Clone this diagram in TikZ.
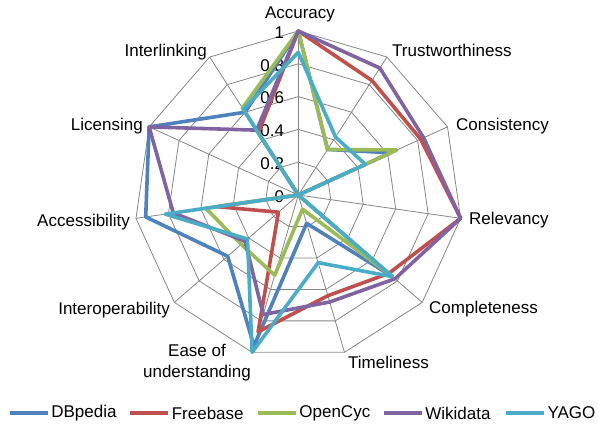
\documentclass[tikz,border=0pt]{standalone}
\usepackage{fontspec}
\setmainfont{Liberation Sans}
\usetikzlibrary{calc}

\definecolor{dbpblue}{HTML}{4F81BD}
\definecolor{frbred}{HTML}{C0504D}
\definecolor{cycgreen}{HTML}{9BBB59}
\definecolor{wkdpurple}{HTML}{8064A2}
\definecolor{yagcyan}{HTML}{4BACC6}
\definecolor{gridgray}{HTML}{868686}

\tikzset{
    spoke/.style={draw=gridgray, line width=0.8pt},
    serie/.style={line width=3.6pt, line join=round},
    lbl/.style={inner sep=0pt, text=black, font=\fontsize{17}{21}\selectfont},
}
\newcommand{\radius}{164}

% one closed line of the radar: name, colour, eleven values
\newcommand{\radarseries}[3]{%
    \foreach \v [count=\i from 0] in {#3} {
        \coordinate (#1\i) at ({90-\i*360/11}:{\v*\radius});
    }
    \draw[serie, #2] (#10) \foreach \i in {1,...,10} { -- (#1\i) } -- cycle;
}

\begin{document}
\begin{tikzpicture}[x=1pt,y=1pt]
    \useasboundingbox (0,0) rectangle (598,425);

    \begin{scope}[shift={(298.3,230)}]
        % grid
        \foreach \r in {0.2,0.4,0.6,0.8,1} {
            \draw[spoke] (90:\r*\radius)
                \foreach \k in {1,...,10} { -- ({90-\k*360/11}:\r*\radius) } -- cycle;
        }
        \coordinate (o) at (0,0);
        \foreach \k in {0,...,10} {
            \coordinate (ax\k) at ({90-\k*360/11}:\radius);
            \draw[spoke] (o) -- (ax\k);
        }

        % scale
        \foreach \r [count=\n] in {0,0.2,0.4,0.6,0.8,1} {
            \node[lbl, anchor=east] (tick\n) at (-14, {\r*\radius-1.5}) {\r};
        }

        % data
        \radarseries{dbp}{dbpblue}{1,0.33,0.62,0,0.76,0.18,0.96,0.57,0.94,1,0.6}
        \radarseries{frb}{frbred}{1,0.83,0.82,1,0.73,0.64,0.87,0.16,0.5,0,0.45}
        \radarseries{cyc}{cycgreen}{1,0.33,0.66,0,0.76,0.09,0.51,0.46,0.57,0,0.63}
        \radarseries{wkd}{wkdpurple}{1,0.92,0.84,1,0.78,0.68,0.76,0.43,0.77,1,0.47}
        \radarseries{yag}{yagcyan}{0.87,0.42,0.45,0,0.76,0.43,1,0.41,0.82,0,0.62}
    \end{scope}

    % axis labels
    \node[lbl] (accuracy) at (300,411) {Accuracy};
    \node[lbl, anchor=west] (trust) at (392,374.3) {Trustworthiness};
    \node[lbl, anchor=west] (consistency) at (456,299) {Consistency};
    \node[lbl, anchor=west] (relevancy) at (469,205) {Relevancy};
    \node[lbl, anchor=west] (completeness) at (429,115.7) {Completeness};
    \node[lbl, anchor=west] (timeliness) at (348,63) {Timeliness};
    \node[lbl, align=center] (ease) at (197,62.5) {Ease of\\understanding};
    \node[lbl, anchor=east] (interop) at (170,115) {Interoperability};
    \node[lbl, anchor=east] (access) at (130,203.3) {Accessibility};
    \node[lbl, anchor=east] (licensing) at (143,299) {Licensing};
    \node[lbl, anchor=east] (interlinking) at (207,373.3) {Interlinking};

    % legend
    \foreach \x/\c/\t [count=\n] in {9.5/dbpblue/DBpedia, 130/frbred/Freebase,
            257.6/cycgreen/OpenCyc, 383.6/wkdpurple/Wikidata, 505.7/yagcyan/YAGO} {
        \draw[serie, \c] (\x,12) coordinate (key\n) -- ++(38,0)
            node[lbl, anchor=west, xshift=2] (leg\n) {\t};
    }
\end{tikzpicture}
\end{document}
